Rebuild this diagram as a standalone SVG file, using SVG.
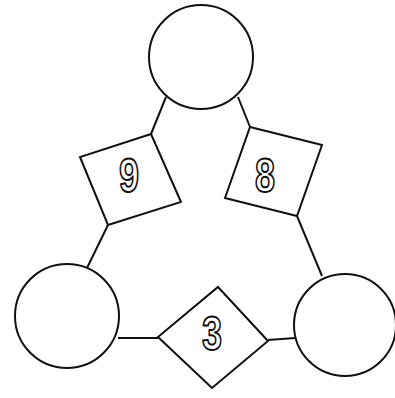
<svg xmlns="http://www.w3.org/2000/svg" width="395" height="398" viewBox="0 0 395 398">
<style>
.n{fill:#fff;stroke:#111;stroke-width:2}
.c{stroke:#111;stroke-width:2;fill:none}
.t{font-family:"Liberation Sans",Arial,sans-serif;font-weight:bold;font-size:48px;fill:#fff;stroke:#111;stroke-width:2;stroke-linejoin:round;text-anchor:middle}
</style>
<rect width="395" height="398" fill="#fff"/>
<g id="connectors">
<line class="c" x1="166" y1="97" x2="151" y2="134"/>
<line class="c" x1="108" y1="225" x2="87" y2="268"/>
<line class="c" x1="238" y1="97" x2="250" y2="127"/>
<line class="c" x1="297" y1="216" x2="322" y2="276"/>
<line class="c" x1="118" y1="338" x2="158" y2="338"/>
<line class="c" x1="268" y1="340" x2="295" y2="338"/>
</g>
<g id="top-circle"><circle class="n" cx="201" cy="57" r="52"/></g>
<g id="left-circle"><circle class="n" cx="67" cy="316" r="52"/></g>
<g id="right-circle"><circle class="n" cx="345" cy="325" r="51"/></g>
<g id="square-9">
<polygon class="n" points="151,134 80,157 108,225 181,202"/>
<text class="t" x="129" y="192" textLength="20" lengthAdjust="spacingAndGlyphs">9</text>
</g>
<g id="square-8">
<polygon class="n" points="250,127 322,145 297,216 225,198"/>
<text class="t" x="265" y="192" textLength="20" lengthAdjust="spacingAndGlyphs">8</text>
</g>
<g id="diamond-3">
<polygon class="n" points="218,287 268,341 212,388 158,337"/>
<text class="t" x="212" y="350" textLength="20" lengthAdjust="spacingAndGlyphs">3</text>
</g>
</svg>
